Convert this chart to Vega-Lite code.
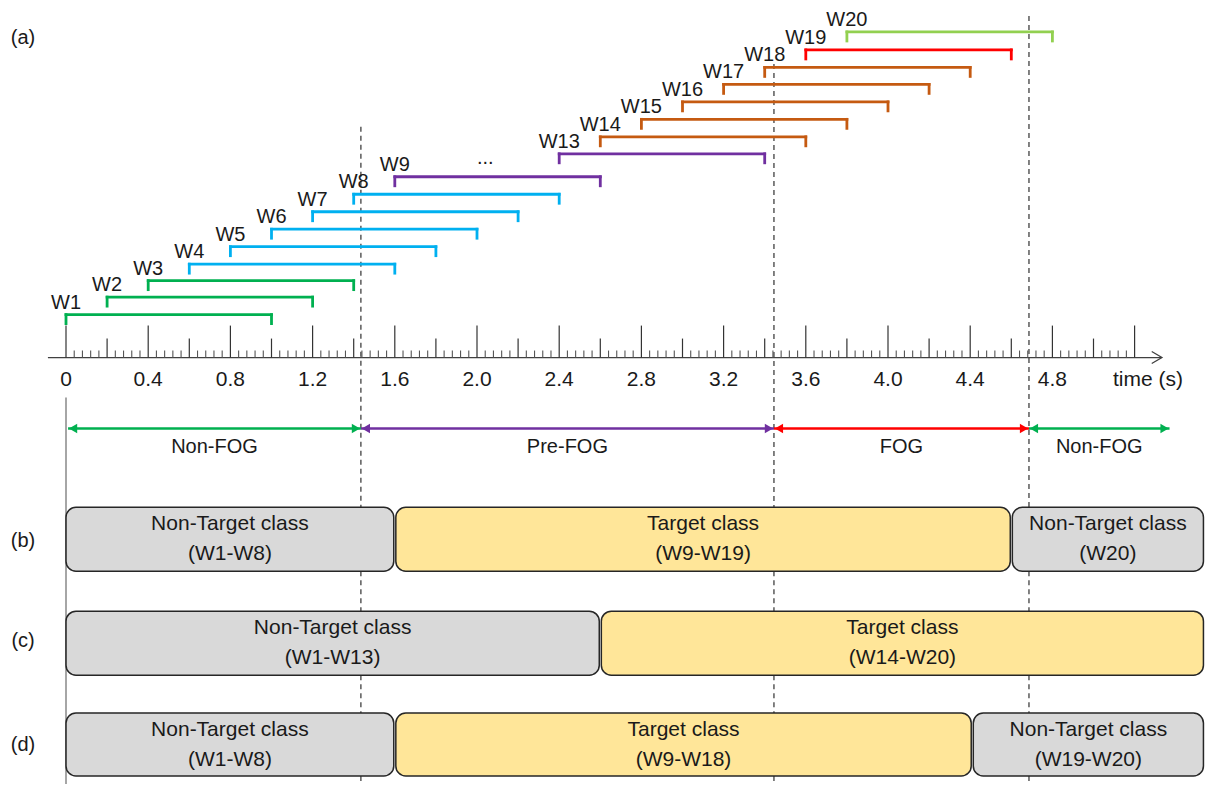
{
  "$schema": "https://vega.github.io/schema/vega-lite/v6.json",
  "width": 1207,
  "height": 785,
  "autosize": {"type": "fit", "contains": "padding"},
  "padding": 0,
  "background": "white",
  "config": {"view": {"stroke": null}, "font": "Liberation Sans"},
  "datasets": {
    "windows": [
      {"w": "W1", "s": 0, "e": 1.0, "y": 315, "grp": "g"},
      {"w": "W2", "s": 0.2, "e": 1.2, "y": 297.5, "grp": "g"},
      {"w": "W3", "s": 0.4, "e": 1.4, "y": 281, "grp": "g"},
      {"w": "W4", "s": 0.6, "e": 1.6, "y": 264.5, "grp": "b"},
      {"w": "W5", "s": 0.8, "e": 1.8, "y": 247, "grp": "b"},
      {"w": "W6", "s": 1.0, "e": 2.0, "y": 229.5, "grp": "b"},
      {"w": "W7", "s": 1.2, "e": 2.2, "y": 212, "grp": "b"},
      {"w": "W8", "s": 1.4, "e": 2.4, "y": 194.5, "grp": "b"},
      {"w": "W9", "s": 1.6, "e": 2.6, "y": 177, "grp": "p"},
      {"w": "W13", "s": 2.4, "e": 3.4, "y": 154, "grp": "p"},
      {"w": "W14", "s": 2.6, "e": 3.6, "y": 137, "grp": "o"},
      {"w": "W15", "s": 2.8, "e": 3.8, "y": 119.5, "grp": "o"},
      {"w": "W16", "s": 3.0, "e": 4.0, "y": 102, "grp": "o"},
      {"w": "W17", "s": 3.2, "e": 4.2, "y": 84.5, "grp": "o"},
      {"w": "W18", "s": 3.4, "e": 4.4, "y": 67.5, "grp": "o"},
      {"w": "W19", "s": 3.6, "e": 4.6, "y": 50, "grp": "r"},
      {"w": "W20", "s": 3.8, "e": 4.8, "y": 32, "grp": "l"}
    ],
    "major": [{"t": 0}, {"t": 0.4}, {"t": 0.8}, {"t": 1.2}, {"t": 1.6}, {"t": 2.0}, {"t": 2.4}, {"t": 2.8}, {"t": 3.2}, {"t": 3.6}, {"t": 4.0}, {"t": 4.4}, {"t": 4.8}, {"t": 5.2}],
    "mid": [{"t": 0.2}, {"t": 0.6}, {"t": 1.0}, {"t": 1.4}, {"t": 1.8}, {"t": 2.2}, {"t": 2.6}, {"t": 3.0}, {"t": 3.4}, {"t": 3.8}, {"t": 4.2}, {"t": 4.6}, {"t": 5.0}],
    "minor": [
      {"t": 0.04}, {"t": 0.08}, {"t": 0.12}, {"t": 0.16},
      {"t": 0.24}, {"t": 0.28}, {"t": 0.32}, {"t": 0.36},
      {"t": 0.44}, {"t": 0.48}, {"t": 0.52}, {"t": 0.56},
      {"t": 0.64}, {"t": 0.68}, {"t": 0.72}, {"t": 0.76},
      {"t": 0.84}, {"t": 0.88}, {"t": 0.92}, {"t": 0.96},
      {"t": 1.04}, {"t": 1.08}, {"t": 1.12}, {"t": 1.16},
      {"t": 1.24}, {"t": 1.28}, {"t": 1.32}, {"t": 1.36},
      {"t": 1.44}, {"t": 1.48}, {"t": 1.52}, {"t": 1.56},
      {"t": 1.64}, {"t": 1.68}, {"t": 1.72}, {"t": 1.76},
      {"t": 1.84}, {"t": 1.88}, {"t": 1.92}, {"t": 1.96},
      {"t": 2.04}, {"t": 2.08}, {"t": 2.12}, {"t": 2.16},
      {"t": 2.24}, {"t": 2.28}, {"t": 2.32}, {"t": 2.36},
      {"t": 2.44}, {"t": 2.48}, {"t": 2.52}, {"t": 2.56},
      {"t": 2.64}, {"t": 2.68}, {"t": 2.72}, {"t": 2.76},
      {"t": 2.84}, {"t": 2.88}, {"t": 2.92}, {"t": 2.96},
      {"t": 3.04}, {"t": 3.08}, {"t": 3.12}, {"t": 3.16},
      {"t": 3.24}, {"t": 3.28}, {"t": 3.32}, {"t": 3.36},
      {"t": 3.44}, {"t": 3.48}, {"t": 3.52}, {"t": 3.56},
      {"t": 3.64}, {"t": 3.68}, {"t": 3.72}, {"t": 3.76},
      {"t": 3.84}, {"t": 3.88}, {"t": 3.92}, {"t": 3.96},
      {"t": 4.04}, {"t": 4.08}, {"t": 4.12}, {"t": 4.16},
      {"t": 4.24}, {"t": 4.28}, {"t": 4.32}, {"t": 4.36},
      {"t": 4.44}, {"t": 4.48}, {"t": 4.52}, {"t": 4.56},
      {"t": 4.64}, {"t": 4.68}, {"t": 4.72}, {"t": 4.76},
      {"t": 4.84}, {"t": 4.88}, {"t": 4.92}, {"t": 4.96},
      {"t": 5.04}, {"t": 5.08}, {"t": 5.12}, {"t": 5.16}
    ],
    "ticklabels": [
      {"t": 0, "lab": "0"}, {"t": 0.4, "lab": "0.4"}, {"t": 0.8, "lab": "0.8"}, {"t": 1.2, "lab": "1.2"},
      {"t": 1.6, "lab": "1.6"}, {"t": 2.0, "lab": "2.0"}, {"t": 2.4, "lab": "2.4"}, {"t": 2.8, "lab": "2.8"},
      {"t": 3.2, "lab": "3.2"}, {"t": 3.6, "lab": "3.6"}, {"t": 4.0, "lab": "4.0"}, {"t": 4.4, "lab": "4.4"},
      {"t": 4.8, "lab": "4.8"}, {"t": 5.265, "lab": "time (s)"}
    ],
    "dashed": [
      {"t": 1.435, "top": 127, "bot": 508},
      {"t": 1.435, "top": 572, "bot": 612},
      {"t": 1.435, "top": 676, "bot": 714},
      {"t": 1.435, "top": 777, "bot": 785},
      {"t": 3.445, "top": 64, "bot": 508},
      {"t": 3.445, "top": 572, "bot": 612},
      {"t": 3.445, "top": 676, "bot": 714},
      {"t": 3.445, "top": 777, "bot": 785},
      {"t": 4.686, "top": 16, "bot": 508},
      {"t": 4.686, "top": 572, "bot": 612},
      {"t": 4.686, "top": 676, "bot": 714},
      {"t": 4.686, "top": 777, "bot": 785}
    ],
    "phases": [
      {"lab": "Non-FOG", "s": 0.01, "e": 1.435, "grp": "non"},
      {"lab": "Pre-FOG", "s": 1.435, "e": 3.445, "grp": "pre"},
      {"lab": "FOG", "s": 3.445, "e": 4.686, "grp": "fog"},
      {"lab": "Non-FOG", "s": 4.686, "e": 5.37, "grp": "non"}
    ],
    "boxes": [
      {"panel": "b", "kind": "non", "lines": ["Non-Target class", "(W1-W8)"], "s": 0, "e": 1.595, "top": 508, "bot": 572},
      {"panel": "b", "kind": "target", "lines": ["Target class", "(W9-W19)"], "s": 1.605, "e": 4.595, "top": 508, "bot": 572},
      {"panel": "b", "kind": "non", "lines": ["Non-Target class", "(W20)"], "s": 4.605, "e": 5.535, "top": 508, "bot": 572},
      {"panel": "c", "kind": "non", "lines": ["Non-Target class", "(W1-W13)"], "s": 0, "e": 2.595, "top": 612, "bot": 676},
      {"panel": "c", "kind": "target", "lines": ["Target class", "(W14-W20)"], "s": 2.605, "e": 5.535, "top": 612, "bot": 676},
      {"panel": "d", "kind": "non", "lines": ["Non-Target class", "(W1-W8)"], "s": 0, "e": 1.595, "top": 714, "bot": 777},
      {"panel": "d", "kind": "target", "lines": ["Target class", "(W9-W18)"], "s": 1.605, "e": 4.405, "top": 714, "bot": 777},
      {"panel": "d", "kind": "non", "lines": ["Non-Target class", "(W19-W20)"], "s": 4.415, "e": 5.535, "top": 714, "bot": 777}
    ],
    "panels": [
      {"lab": "(a)", "y": 38},
      {"lab": "(b)", "y": 542},
      {"lab": "(c)", "y": 642},
      {"lab": "(d)", "y": 746}
    ]
  },
  "layer": [
    {
      "data": {"name": "dashed"},
      "mark": {"type": "rule", "color": "#404040", "strokeWidth": 1.3, "strokeDash": [5, 4]},
      "encoding": {
        "x": {"field": "t", "type": "quantitative", "scale": {"domain": [-0.32117, 5.55231], "nice": false, "zero": false}, "axis": null},
        "y": {"field": "top", "type": "quantitative", "scale": {"domain": [0, 785], "reverse": true, "nice": false, "zero": false}, "axis": null},
        "y2": {"field": "bot"}
      }
    },
    {
      "data": {"values": [{"t": 0}]},
      "mark": {"type": "rule", "color": "#a6a6a6", "strokeWidth": 2},
      "encoding": {
        "x": {"field": "t", "type": "quantitative", "scale": {"domain": [-0.32117, 5.55231], "nice": false, "zero": false}, "axis": null},
        "y": {"datum": 398, "type": "quantitative", "scale": {"domain": [0, 785], "reverse": true, "nice": false, "zero": false}, "axis": null},
        "y2": {"datum": 785}
      }
    },
    {
      "data": {"name": "boxes"},
      "mark": {"type": "rect", "cornerRadius": 10, "stroke": "#262626", "strokeWidth": 1.5, "opacity": 1, "fillOpacity": 1},
      "encoding": {
        "x": {"field": "s", "type": "quantitative", "scale": {"domain": [-0.32117, 5.55231], "nice": false, "zero": false}, "axis": null},
        "x2": {"field": "e"},
        "y": {"field": "top", "type": "quantitative", "scale": {"domain": [0, 785], "reverse": true, "nice": false, "zero": false}, "axis": null},
        "y2": {"field": "bot"},
        "fill": {"field": "kind", "type": "nominal", "scale": {"domain": ["non", "target"], "range": ["#d9d9d9", "#ffe699"]}, "legend": null}
      }
    },
    {
      "data": {"name": "boxes"},
      "transform": [
        {"calculate": "(datum.s + datum.e) / 2", "as": "mx"},
        {"calculate": "(datum.top + datum.bot) / 2", "as": "my"}
      ],
      "mark": {"type": "text", "fontSize": 21, "color": "#1a1a1a", "align": "center", "baseline": "middle", "lineHeight": 30, "dy": -15},
      "encoding": {
        "x": {"field": "mx", "type": "quantitative", "scale": {"domain": [-0.32117, 5.55231], "nice": false, "zero": false}, "axis": null},
        "y": {"field": "my", "type": "quantitative", "scale": {"domain": [0, 785], "reverse": true, "nice": false, "zero": false}, "axis": null},
        "text": {"field": "lines"}
      }
    },
    {
      "data": {"values": [{"a": -0.088, "b": 5.33}]},
      "mark": {"type": "rule", "color": "#404040", "strokeWidth": 1.3},
      "encoding": {
        "x": {"field": "a", "type": "quantitative", "scale": {"domain": [-0.32117, 5.55231], "nice": false, "zero": false}, "axis": null},
        "x2": {"field": "b"},
        "y": {"datum": 358, "type": "quantitative", "scale": {"domain": [0, 785], "reverse": true, "nice": false, "zero": false}, "axis": null}
      }
    },
    {
      "data": {"values": [{"a": 5.333}]},
      "mark": {"type": "point", "shape": "M-0.7,-1L1,0L-0.7,1", "filled": false, "stroke": "#404040", "strokeWidth": 1.3, "size": 144, "xOffset": -6, "opacity": 1},
      "encoding": {
        "x": {"field": "a", "type": "quantitative", "scale": {"domain": [-0.32117, 5.55231], "nice": false, "zero": false}, "axis": null},
        "y": {"datum": 358, "type": "quantitative", "scale": {"domain": [0, 785], "reverse": true, "nice": false, "zero": false}, "axis": null}
      }
    },
    {
      "data": {"name": "major"},
      "mark": {"type": "rule", "color": "#333333", "strokeWidth": 1.2},
      "encoding": {
        "x": {"field": "t", "type": "quantitative", "scale": {"domain": [-0.32117, 5.55231], "nice": false, "zero": false}, "axis": null},
        "y": {"datum": 326, "type": "quantitative", "scale": {"domain": [0, 785], "reverse": true, "nice": false, "zero": false}, "axis": null},
        "y2": {"datum": 358}
      }
    },
    {
      "data": {"name": "mid"},
      "mark": {"type": "rule", "color": "#333333", "strokeWidth": 1.2},
      "encoding": {
        "x": {"field": "t", "type": "quantitative", "scale": {"domain": [-0.32117, 5.55231], "nice": false, "zero": false}, "axis": null},
        "y": {"datum": 339, "type": "quantitative", "scale": {"domain": [0, 785], "reverse": true, "nice": false, "zero": false}, "axis": null},
        "y2": {"datum": 358}
      }
    },
    {
      "data": {"name": "minor"},
      "mark": {"type": "rule", "color": "#555555", "strokeWidth": 1.1},
      "encoding": {
        "x": {"field": "t", "type": "quantitative", "scale": {"domain": [-0.32117, 5.55231], "nice": false, "zero": false}, "axis": null},
        "y": {"datum": 351, "type": "quantitative", "scale": {"domain": [0, 785], "reverse": true, "nice": false, "zero": false}, "axis": null},
        "y2": {"datum": 358}
      }
    },
    {
      "data": {"name": "ticklabels"},
      "mark": {"type": "text", "fontSize": 21, "color": "#1a1a1a", "align": "center", "baseline": "middle"},
      "encoding": {
        "x": {"field": "t", "type": "quantitative", "scale": {"domain": [-0.32117, 5.55231], "nice": false, "zero": false}, "axis": null},
        "y": {"datum": 380, "type": "quantitative", "scale": {"domain": [0, 785], "reverse": true, "nice": false, "zero": false}, "axis": null},
        "text": {"field": "lab"}
      }
    },
    {
      "data": {"name": "windows"},
      "mark": {"type": "rule", "strokeWidth": 2.8, "strokeCap": "square"},
      "encoding": {
        "x": {"field": "s", "type": "quantitative", "scale": {"domain": [-0.32117, 5.55231], "nice": false, "zero": false}, "axis": null},
        "x2": {"field": "e"},
        "y": {"field": "y", "type": "quantitative", "scale": {"domain": [0, 785], "reverse": true, "nice": false, "zero": false}, "axis": null},
        "color": {"field": "grp", "type": "nominal", "scale": {"domain": ["g", "b", "p", "o", "r", "l"], "range": ["#00b050", "#00b0f0", "#7030a0", "#c55a11", "#ff0000", "#92d050"]}, "legend": null}
      }
    },
    {
      "data": {"name": "windows"},
      "mark": {"type": "rule", "strokeWidth": 2.8, "strokeCap": "square", "y2Offset": 9},
      "encoding": {
        "x": {"field": "s", "type": "quantitative", "scale": {"domain": [-0.32117, 5.55231], "nice": false, "zero": false}, "axis": null},
        "y": {"field": "y", "type": "quantitative", "scale": {"domain": [0, 785], "reverse": true, "nice": false, "zero": false}, "axis": null},
        "y2": {"field": "y"},
        "color": {"field": "grp", "type": "nominal", "scale": {"domain": ["g", "b", "p", "o", "r", "l"], "range": ["#00b050", "#00b0f0", "#7030a0", "#c55a11", "#ff0000", "#92d050"]}, "legend": null}
      }
    },
    {
      "data": {"name": "windows"},
      "mark": {"type": "rule", "strokeWidth": 2.8, "strokeCap": "square", "y2Offset": 9},
      "encoding": {
        "x": {"field": "e", "type": "quantitative", "scale": {"domain": [-0.32117, 5.55231], "nice": false, "zero": false}, "axis": null},
        "y": {"field": "y", "type": "quantitative", "scale": {"domain": [0, 785], "reverse": true, "nice": false, "zero": false}, "axis": null},
        "y2": {"field": "y"},
        "color": {"field": "grp", "type": "nominal", "scale": {"domain": ["g", "b", "p", "o", "r", "l"], "range": ["#00b050", "#00b0f0", "#7030a0", "#c55a11", "#ff0000", "#92d050"]}, "legend": null}
      }
    },
    {
      "data": {"name": "windows"},
      "mark": {"type": "text", "fontSize": 20, "color": "#1a1a1a", "align": "center", "baseline": "alphabetic", "dy": -6},
      "encoding": {
        "x": {"field": "s", "type": "quantitative", "scale": {"domain": [-0.32117, 5.55231], "nice": false, "zero": false}, "axis": null},
        "y": {"field": "y", "type": "quantitative", "scale": {"domain": [0, 785], "reverse": true, "nice": false, "zero": false}, "axis": null},
        "text": {"field": "w"}
      }
    },
    {
      "data": {"values": [{"t": 2.04, "lab": "..."}]},
      "mark": {"type": "text", "fontSize": 20, "color": "#1a1a1a", "align": "center", "baseline": "alphabetic"},
      "encoding": {
        "x": {"field": "t", "type": "quantitative", "scale": {"domain": [-0.32117, 5.55231], "nice": false, "zero": false}, "axis": null},
        "y": {"datum": 164, "type": "quantitative", "scale": {"domain": [0, 785], "reverse": true, "nice": false, "zero": false}, "axis": null},
        "text": {"field": "lab"}
      }
    },
    {
      "data": {"name": "phases"},
      "mark": {"type": "rule", "strokeWidth": 2.5},
      "encoding": {
        "x": {"field": "s", "type": "quantitative", "scale": {"domain": [-0.32117, 5.55231], "nice": false, "zero": false}, "axis": null},
        "x2": {"field": "e"},
        "y": {"datum": 429, "type": "quantitative", "scale": {"domain": [0, 785], "reverse": true, "nice": false, "zero": false}, "axis": null},
        "color": {"field": "grp", "type": "nominal", "scale": {"domain": ["non", "pre", "fog"], "range": ["#00b050", "#7030a0", "#ff0000"]}, "legend": null}
      }
    },
    {
      "data": {"name": "phases"},
      "mark": {"type": "point", "shape": "triangle-left", "filled": true, "size": 90, "opacity": 1, "xOffset": 5},
      "encoding": {
        "x": {"field": "s", "type": "quantitative", "scale": {"domain": [-0.32117, 5.55231], "nice": false, "zero": false}, "axis": null},
        "y": {"datum": 429, "type": "quantitative", "scale": {"domain": [0, 785], "reverse": true, "nice": false, "zero": false}, "axis": null},
        "color": {"field": "grp", "type": "nominal", "scale": {"domain": ["non", "pre", "fog"], "range": ["#00b050", "#7030a0", "#ff0000"]}, "legend": null}
      }
    },
    {
      "data": {"name": "phases"},
      "mark": {"type": "point", "shape": "triangle-right", "filled": true, "size": 90, "opacity": 1, "xOffset": -5},
      "encoding": {
        "x": {"field": "e", "type": "quantitative", "scale": {"domain": [-0.32117, 5.55231], "nice": false, "zero": false}, "axis": null},
        "y": {"datum": 429, "type": "quantitative", "scale": {"domain": [0, 785], "reverse": true, "nice": false, "zero": false}, "axis": null},
        "color": {"field": "grp", "type": "nominal", "scale": {"domain": ["non", "pre", "fog"], "range": ["#00b050", "#7030a0", "#ff0000"]}, "legend": null}
      }
    },
    {
      "data": {"name": "phases"},
      "transform": [{"calculate": "(datum.s + datum.e) / 2", "as": "mx"}],
      "mark": {"type": "text", "fontSize": 20, "color": "#1a1a1a", "align": "center", "baseline": "middle"},
      "encoding": {
        "x": {"field": "mx", "type": "quantitative", "scale": {"domain": [-0.32117, 5.55231], "nice": false, "zero": false}, "axis": null},
        "y": {"datum": 448, "type": "quantitative", "scale": {"domain": [0, 785], "reverse": true, "nice": false, "zero": false}, "axis": null},
        "text": {"field": "lab"}
      }
    },
    {
      "data": {"name": "panels"},
      "mark": {"type": "text", "fontSize": 20, "color": "#1a1a1a", "align": "center", "baseline": "middle"},
      "encoding": {
        "x": {"datum": -0.209, "type": "quantitative", "scale": {"domain": [-0.32117, 5.55231], "nice": false, "zero": false}, "axis": null},
        "y": {"field": "y", "type": "quantitative", "scale": {"domain": [0, 785], "reverse": true, "nice": false, "zero": false}, "axis": null},
        "text": {"field": "lab"}
      }
    }
  ],
  "resolve": {"scale": {"color": "independent", "fill": "independent"}}
}
